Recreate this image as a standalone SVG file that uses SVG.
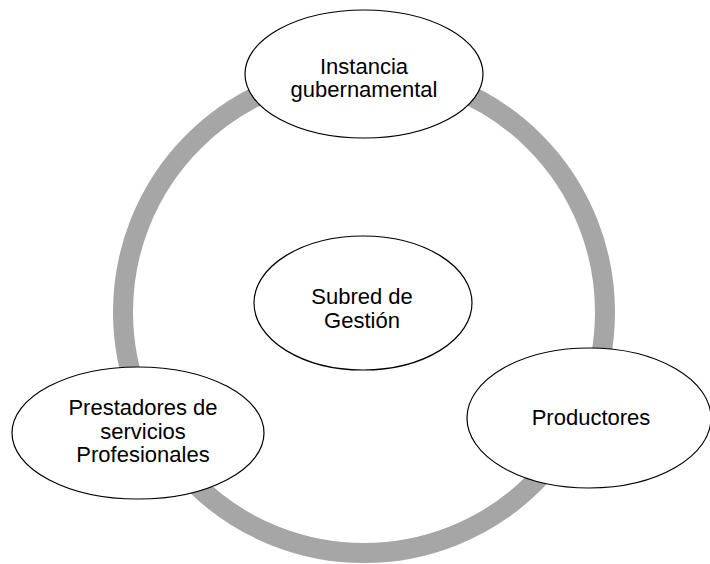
<svg xmlns="http://www.w3.org/2000/svg" width="710" height="564" viewBox="0 0 710 564">
<style>
.node{fill:#ffffff;stroke:#000000;stroke-width:1.2}
.lbl{font-family:"Liberation Sans",Arial,sans-serif;font-size:22px;fill:#000000;text-anchor:middle}
.ring{fill:none;stroke:#a6a6a6;stroke-width:20}
</style>
<rect width="710" height="564" fill="#ffffff"/>
<g id="connectors">
<circle class="ring" cx="364" cy="312" r="241"/>
</g>
<g id="instancia">
<ellipse class="node" cx="364" cy="74" rx="119" ry="64"/>
<text class="lbl" x="364" y="74">Instancia</text>
<text class="lbl" x="364" y="97">gubernamental</text>
</g>
<g id="subred">
<ellipse class="node" cx="363" cy="303" rx="109" ry="67"/>
<text class="lbl" x="362" y="304">Subred de</text>
<text class="lbl" x="362" y="328">Gestión</text>
</g>
<g id="prestadores">
<ellipse class="node" cx="138" cy="433" rx="126" ry="66"/>
<text class="lbl" x="143" y="415">Prestadores de</text>
<text class="lbl" x="143" y="439">servicios</text>
<text class="lbl" x="143" y="462">Profesionales</text>
</g>
<g id="productores">
<ellipse class="node" cx="589" cy="418" rx="122" ry="70"/>
<text class="lbl" x="591" y="425">Productores</text>
</g>
</svg>
